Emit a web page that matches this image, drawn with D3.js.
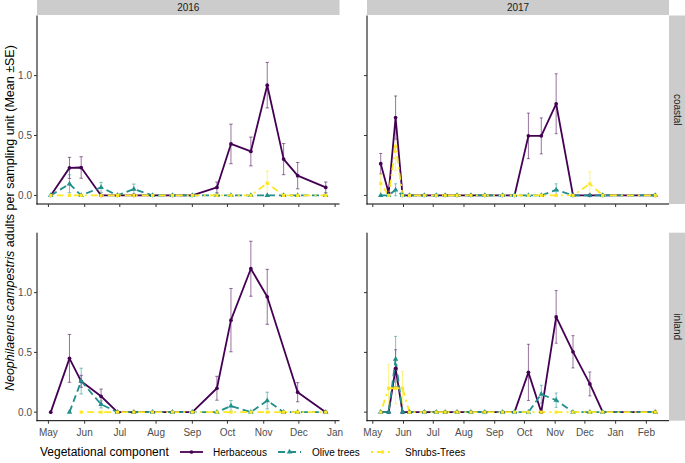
<!DOCTYPE html>
<html><head><meta charset="utf-8">
<script src="https://cdn.jsdelivr.net/npm/d3@7/dist/d3.min.js"></script>
<style>body{margin:0;background:#fff} svg{display:block;font-family:"Liberation Sans",Arial,sans-serif}</style>
</head><body><svg id="c" width="685" height="463"></svg>
<script>
// ---------------- data ----------------
const years = ["2016", "2017"];
const sites = ["coastal", "inland"];
const seriesNames = ["Herbaceous", "Olive trees", "Shrubs-Trees"];
const yTicks = [0, 0.5, 1.0];

const dates2016 = ["2016-05-03","2016-05-19","2016-05-29","2016-06-15","2016-06-29","2016-07-13","2016-07-29","2016-08-15",
                   "2016-09-01","2016-09-22","2016-10-04","2016-10-21","2016-11-04","2016-11-18","2016-11-30","2016-12-24"];
const dates2017 = ["2017-05-09","2017-05-17","2017-05-24","2017-05-31","2017-06-07","2017-06-22","2017-07-04","2017-07-13",
                   "2017-07-25","2017-08-08","2017-08-22","2017-09-09","2017-09-21","2017-10-05","2017-10-18","2017-11-02",
                   "2017-11-19","2017-12-06","2017-12-19","2018-02-10"];

// coastal 2016
const coastal2016HerbMean  = [0, 0.23, 0.233, 0, 0, 0, 0, 0, 0, 0.067, 0.43, 0.367, 0.92, 0.303, 0.165, 0.067];
const coastal2016HerbSE    = [0, 0.088, 0.09, 0, 0, 0, 0, 0, 0, 0.045, 0.165, 0.12, 0.19, 0.13, 0.11, 0.045];
const coastal2016OliveMean = [0, 0.097, 0, 0.067, 0, 0.053, 0, 0, 0, 0, 0, 0, 0, 0, 0, 0];
const coastal2016OliveSE   = [0, 0.075, 0, 0.042, 0, 0.042, 0, 0, 0, 0, 0, 0, 0, 0, 0, 0];
const coastal2016ShrubMean = [0, 0, 0, 0, 0, 0, 0, 0, 0, 0, 0, 0, 0.103, 0, 0, 0];
const coastal2016ShrubSE   = [0, 0, 0, 0, 0, 0, 0, 0, 0, 0, 0, 0, 0.1, 0, 0, 0];
// inland 2016
const inland2016HerbMean  = [0, 0.45, 0.258, 0.133, 0, 0, 0, 0, 0, 0.2, 0.77, 1.2, 0.965, null, 0.167, 0];
const inland2016HerbSE    = [0, 0.2, 0.05, 0.06, 0, 0, 0, 0, 0, 0.1, 0.265, 0.23, 0.23, null, 0.08, 0];
const inland2016OliveMean = [null, 0, 0.26, 0.065, 0, 0, 0, 0, 0, 0, 0.052, 0, 0.097, 0, 0, 0];
const inland2016OliveSE   = [null, 0, 0.108, 0.03, 0, 0, 0, 0, 0, 0, 0.045, 0, 0.07, 0, 0, 0];
const inland2016ShrubMean = [null, null, 0, 0, 0, 0, 0, 0, 0, 0, 0, 0, 0, 0, 0, 0];
const inland2016ShrubSE   = [null, null, 0, 0, 0, 0, 0, 0, 0, 0, 0, 0, 0, 0, 0, 0];
// coastal 2017
const coastal2017HerbMean  = [0.265, 0.02, 0.65, 0, 0, 0, 0, 0, 0, 0, 0, 0, 0, 0.497, 0.497, 0.765, 0, 0, 0, 0];
const coastal2017HerbSE    = [0.085, 0.01, 0.18, 0, 0, 0, 0, 0, 0, 0, 0, 0, 0, 0.19, 0.15, 0.25, 0, 0, 0, 0];
const coastal2017OliveMean = [0, 0, 0.047, 0, 0, 0, 0, 0, 0, 0, 0, 0, 0, 0, 0, 0.047, 0, 0, 0, 0];
const coastal2017OliveSE   = [0, 0, 0.05, 0, 0, 0, 0, 0, 0, 0, 0, 0, 0, 0, 0, 0.05, 0, 0, 0, 0];
const coastal2017ShrubMean = [0.1, 0, 0.41, 0, 0, 0, 0, 0, 0, 0, 0, 0, 0, 0, 0, 0, 0, 0.097, 0, 0];
const coastal2017ShrubSE   = [0.08, 0, 0.2, 0, 0, 0, 0, 0, 0, 0, 0, 0, 0, 0, 0, 0, 0, 0.1, 0, 0];
// inland 2017
const inland2017HerbMean  = [0, 0, 0.367, 0, 0, 0, 0, 0, 0, 0, 0, 0, 0, 0.333, 0, 0.797, 0.505, 0.236, 0, 0];
const inland2017HerbSE    = [0, 0, 0.155, 0, 0, 0, 0, 0, 0, 0, 0, 0, 0, 0.235, 0, 0.22, 0.135, 0.1, 0, 0];
const inland2017OliveMean = [0, 0, 0.444, 0, 0, 0, 0, 0, 0, 0, 0, 0, 0, 0, 0.15, 0.1, 0, 0, 0, 0];
const inland2017OliveSE   = [0, 0, 0.19, 0, 0, 0, 0, 0, 0, 0, 0, 0, 0, 0, 0.075, 0.06, 0, 0, 0, 0];
const inland2017ShrubMean = [0, 0.2, 0.2, 0.2, 0, 0, 0, 0, 0, 0, 0, 0, 0, 0, 0, 0, 0, 0, 0, 0];
const inland2017ShrubSE   = [0, 0.2, 0.13, 0.14, 0, 0, 0, 0, 0, 0, 0, 0, 0, 0, 0, 0, 0, 0, 0, 0];

// ---------------- build ----------------
const parse = d3.timeParse("%Y-%m-%d");
const datesByYear = {"2016": dates2016.map(parse), "2017": dates2017.map(parse)};
const panelData = {
  "coastal|2016": [[coastal2016HerbMean, coastal2016HerbSE],[coastal2016OliveMean, coastal2016OliveSE],[coastal2016ShrubMean, coastal2016ShrubSE]],
  "inland|2016":  [[inland2016HerbMean, inland2016HerbSE],[inland2016OliveMean, inland2016OliveSE],[inland2016ShrubMean, inland2016ShrubSE]],
  "coastal|2017": [[coastal2017HerbMean, coastal2017HerbSE],[coastal2017OliveMean, coastal2017OliveSE],[coastal2017ShrubMean, coastal2017ShrubSE]],
  "inland|2017":  [[inland2017HerbMean, inland2017HerbSE],[inland2017OliveMean, inland2017OliveSE],[inland2017ShrubMean, inland2017ShrubSE]]
};

const colors = ["#440154", "#21908C", "#FDE725"];
const dashes = [null, "7,4", "2,4,7,4"];
const shapes = [d3.symbolCircle, d3.symbolTriangle, d3.symbolSquare];
const shapeSize = [11, 13, 10];

const svg = d3.select("#c");
const cols = [{x0: 37, x1: 339.5}, {x0: 367, x1: 669}];
const rows = [{y0: 15.5, y1: 204}, {y0: 232.7, y1: 420.7}];
const stripH = 15, stripW = 16;

// shared y scale with 5% expansion
let ymax = 0;
Object.values(panelData).forEach(p => p.forEach(([m, s]) => m.forEach((v, i) => { if (v != null) ymax = Math.max(ymax, v + (s[i] || 0)); })));
const ymin = 0;
const yexp = (ymax - ymin) * 0.05;

const xScales = years.map((yr, ci) => {
  const ext = d3.extent(datesByYear[yr]);
  const span = ext[1] - ext[0];
  return d3.scaleTime().domain([new Date(+ext[0] - span * 0.05), new Date(+ext[1] + span * 0.05)])
    .range([cols[ci].x0, cols[ci].x1]);
});

const tickColor = "#333333", labColor = "#4d4d4d";

sites.forEach((site, ri) => {
  const R = rows[ri];
  const ys = d3.scaleLinear().domain([ymin - yexp, ymax + yexp]).range([R.y1, R.y0]);
  years.forEach((yr, ci) => {
    const C = cols[ci];
    const xs = xScales[ci];
    const dates = datesByYear[yr];
    const g = svg.append("g");
    const series = panelData[site + "|" + yr];
    const pts = series.map(([m, s]) => dates.map((d, i) => ({date: d, v: m[i], se: s[i]})).filter(d => d.v != null));
    const day = 86400000;
    // error bars
    pts.forEach((arr, k) => {
      const eg = g.append("g").attr("stroke", colors[k]).attr("stroke-opacity", 0.55).attr("stroke-width", 1).attr("fill", "none");
      arr.filter(d => d.se > 0).forEach(d => {
        const xa = xs(new Date(+d.date - 1.5 * day)), xb = xs(new Date(+d.date + 1.5 * day)), xm = xs(d.date);
        const yt = ys(d.v + d.se), yb = ys(Math.max(d.v - d.se, ymin - yexp));
        eg.append("path").attr("d", `M${xm},${yt}V${yb}M${xa},${yt}H${xb}M${xa},${ys(d.v - d.se)}H${xb}`);
      });
    });
    // lines
    const line = d3.line().x(d => xs(d.date)).y(d => ys(d.v));
    pts.forEach((arr, k) => {
      g.append("path").datum(arr).attr("d", line).attr("fill", "none")
        .attr("stroke", colors[k]).attr("stroke-width", 1.8)
        .attr("stroke-dasharray", dashes[k]).attr("stroke-linejoin", "round");
    });
    // points
    pts.forEach((arr, k) => {
      g.selectAll(null).data(arr).enter().append("path")
        .attr("d", d3.symbol().type(shapes[k]).size(shapeSize[k]))
        .attr("transform", d => `translate(${xs(d.date)},${ys(d.v)})`)
        .attr("fill", colors[k]);
    });

    // axes lines
    g.append("line").attr("x1", C.x0).attr("x2", C.x0).attr("y1", R.y0).attr("y2", R.y1 + 0.5).attr("stroke", "#000").attr("stroke-width", 1);
    g.append("line").attr("x1", C.x0 - 0.5).attr("x2", C.x1).attr("y1", R.y1).attr("y2", R.y1).attr("stroke", "#000").attr("stroke-width", 1);
    // y ticks
    yTicks.forEach(t => {
      g.append("line").attr("x1", C.x0 - 3).attr("x2", C.x0).attr("y1", ys(t)).attr("y2", ys(t)).attr("stroke", tickColor).attr("stroke-width", 1);
      if (ci === 0) {
        g.append("text").attr("x", C.x0 - 5).attr("y", ys(t)).attr("dy", "0.35em").attr("text-anchor", "end")
          .attr("font-size", 10).attr("fill", labColor).text(d3.format(".1f")(t));
      }
    });
    // x ticks
    const months = d3.timeMonth.range(d3.timeMonth.ceil(xs.domain()[0]), xs.domain()[1]);
    months.forEach(m => {
      g.append("line").attr("x1", xs(m)).attr("x2", xs(m)).attr("y1", R.y1).attr("y2", R.y1 + 3).attr("stroke", tickColor).attr("stroke-width", 1);
      if (ri === 1) {
        g.append("text").attr("x", xs(m)).attr("y", R.y1 + 15).attr("text-anchor", "middle")
          .attr("font-size", 10).attr("fill", labColor).text(d3.timeFormat("%b")(m));
      }
    });
  });
  // right strip
  svg.append("rect").attr("x", cols[1].x1).attr("y", R.y0).attr("width", stripW).attr("height", R.y1 - R.y0).attr("fill", "#cccccc");
  svg.append("text").attr("transform", `translate(${cols[1].x1 + stripW / 2},${(R.y0 + R.y1) / 2}) rotate(90)`)
    .attr("text-anchor", "middle").attr("dy", "0.35em").attr("font-size", 10).attr("fill", "#1a1a1a").text(site);
});
// top strips
years.forEach((yr, ci) => {
  const C = cols[ci];
  svg.append("rect").attr("x", C.x0).attr("y", 0).attr("width", C.x1 - C.x0).attr("height", stripH).attr("fill", "#cccccc");
  svg.append("text").attr("x", (C.x0 + C.x1) / 2).attr("y", stripH / 2).attr("dy", "0.35em").attr("text-anchor", "middle")
    .attr("font-size", 10).attr("fill", "#1a1a1a").text(yr);
});

// y axis title
const yt = svg.append("text").attr("transform", `translate(14,${(rows[0].y0 + rows[1].y1) / 2}) rotate(-90)`)
  .attr("text-anchor", "middle").attr("font-size", 12.5).attr("fill", "#000");
yt.append("tspan").attr("font-style", "italic").text("Neophilaenus campestris");
yt.append("tspan").text(" adults per sampling unit (Mean \u00B1SE)");

// legend
const ly = 452;
svg.append("text").attr("x", 40).attr("y", ly).attr("dy", "0.35em").attr("font-size", 12).attr("fill", "#000").text("Vegetational component");
const keyX = [180, 278, 371], labX = [213, 312, 405];
seriesNames.forEach((n, k) => {
  svg.append("line").attr("x1", keyX[k]).attr("x2", keyX[k] + 23).attr("y1", ly).attr("y2", ly)
    .attr("stroke", colors[k]).attr("stroke-width", 1.8).attr("stroke-dasharray", dashes[k]);
  svg.append("path").attr("d", d3.symbol().type(shapes[k]).size(shapeSize[k])).attr("transform", `translate(${keyX[k] + 11.5},${ly})`).attr("fill", colors[k]);
  svg.append("text").attr("x", labX[k]).attr("y", ly).attr("dy", "0.35em").attr("font-size", 10).attr("fill", "#000").text(n);
});
</script></body></html>
